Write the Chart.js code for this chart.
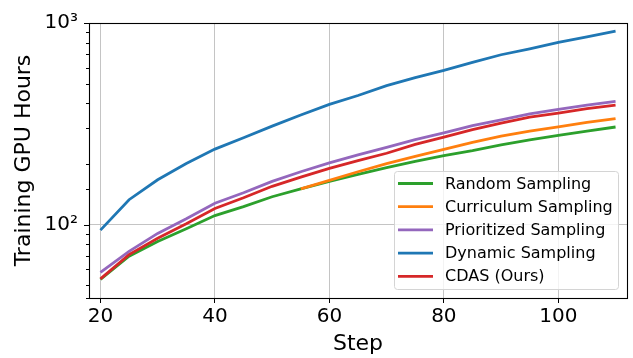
<!DOCTYPE html>
<html>
<head>
<meta charset="utf-8">
<script src="https://cdn.jsdelivr.net/npm/chart.js@4.4.1/dist/chart.umd.min.js"></script>
<style>
  html, body { margin: 0; padding: 0; background: #fff; }
  #wrap { width: 633px; height: 358px; }
</style>
</head>
<body>
<div id="wrap"><canvas id="chart" width="633" height="358"></canvas></div>
<script>
// values (log axis)
const steps = [20, 25, 30, 35, 40, 45, 50, 55, 60, 65, 70, 75, 80, 85, 90, 95, 100, 105, 110];
const randomSampling     = [53.5, 69.8, 82.5, 95.5, 111, 123, 137.6, 150.4, 164, 177.7, 192, 206, 220, 233, 249, 263, 277, 291, 305];
const curriculumSampling = [null, null, null, null, null, null, null, 150.4, 165.7, 183, 201, 218, 236, 256, 275, 291, 305.5, 321.6, 336];
const prioritizedSampling = [58, 73.8, 90.5, 107, 127.8, 144, 164, 183, 202.5, 222, 242, 264, 285, 310, 331, 354, 373, 391.6, 409];
const dynamicSampling    = [94, 133, 167, 201, 237, 270, 308, 350, 395, 437, 489, 536, 582, 638, 696, 744, 801, 853, 912];
const cdasOurs           = [53.9, 71.1, 85.6, 101, 120.4, 136, 155, 172, 190, 208, 226, 250, 272, 296, 319, 341, 357, 376, 392];

const seriesNames = ['Random Sampling', 'Curriculum Sampling', 'Prioritized Sampling', 'Dynamic Sampling', 'CDAS (Ours)'];
const seriesData = [randomSampling, curriculumSampling, prioritizedSampling, dynamicSampling, cdasOurs];
const seriesColors = ['#2ca02c', '#ff7f0e', '#9467bd', '#1f77b4', '#d62728'];

const xTicks = [20, 40, 60, 80, 100];
const yMajor = { 100: '10\u00B2', 1000: '10\u00B3' };

Chart.defaults.font.family = '"DejaVu Sans", sans-serif';
Chart.defaults.color = '#000';

// frame, y tick marks and the legend box (matplotlib style, inside the plot)
const frameAndLegend = {
    id: 'frameAndLegend',
    afterDraw(chart) {
        const ctx = chart.ctx;
        const a = chart.chartArea;
        const ys = chart.scales.y;
        ctx.save();

        // y tick marks: long for decades, short for minor
        ctx.strokeStyle = '#000';
        ctx.lineWidth = 1;
        ys.ticks.forEach(t => {
            const py = Math.round(ys.getPixelForValue(t.value)) + 0.5;
            const len = yMajor[t.value] ? 5 : 3;
            ctx.beginPath();
            ctx.moveTo(a.left - len, py);
            ctx.lineTo(a.left, py);
            ctx.stroke();
        });

        // box around the plot
        ctx.lineWidth = 1.1;
        ctx.strokeRect(Math.round(a.left) + 0.5, Math.round(a.top) + 0.5,
            Math.round(a.right - a.left), Math.round(a.bottom - a.top));

        // legend
        const bx = 394, by = 171, bw = 224, bh = 118;
        ctx.beginPath();
        ctx.roundRect(bx + 0.5, by + 0.5, bw, bh, 3);
        ctx.fillStyle = 'rgba(255,255,255,0.8)';
        ctx.fill();
        ctx.strokeStyle = '#d4d4d4';
        ctx.lineWidth = 1;
        ctx.stroke();

        ctx.font = '16px "DejaVu Sans", sans-serif';
        ctx.textBaseline = 'middle';
        ctx.textAlign = 'left';
        chart.data.datasets.forEach((ds, i) => {
            const ry = 183.5 + i * 23.2;
            ctx.strokeStyle = ds.borderColor;
            ctx.lineWidth = 2.8;
            ctx.beginPath();
            ctx.moveTo(398, ry);
            ctx.lineTo(433, ry);
            ctx.stroke();
            ctx.fillStyle = '#000';
            ctx.fillText(ds.label, 445, ry + 1);
        });
        ctx.restore();
    }
};

const datasets = seriesNames.map((name, i) => ({
    label: name,
    data: steps.map((s, j) => ({ x: s, y: seriesData[i][j] })).filter(p => p.y !== null),
    borderColor: seriesColors[i],
    backgroundColor: seriesColors[i],
    borderWidth: 2.8,
    pointRadius: 0,
    tension: 0,
    fill: false,
    order: seriesNames.length - i   // later series drawn on top, as in the source
}));

new Chart(document.getElementById('chart'), {
    type: 'line',
    data: { datasets: datasets },
    options: {
        responsive: false,
        animation: false,
        layout: { padding: { left: 0, top: 16, right: 6, bottom: 0 } },
        plugins: {
            legend: { display: false },
            tooltip: { enabled: false }
        },
        scales: {
            x: {
                type: 'linear',
                min: 18,
                max: 112,
                afterBuildTicks: s => { s.ticks = xTicks.map(v => ({ value: v })); },
                afterFit: s => { s.height = 60; },
                border: { display: false },
                grid: { color: '#c4c4c4', lineWidth: 1, tickColor: '#000', tickLength: 5 },
                ticks: { font: { size: 20 }, padding: 2, maxRotation: 0, autoSkip: false },
                title: { display: true, text: 'Step', font: { size: 22 }, padding: { top: 0, bottom: 1 } }
            },
            y: {
                type: 'logarithmic',
                min: 43.3,
                max: 1000,
                afterFit: s => { s.width = 89; },
                border: { display: false },
                grid: {
                    color: c => (c.tick && yMajor[c.tick.value]) ? '#c4c4c4' : 'rgba(0,0,0,0)',
                    lineWidth: 1,
                    drawTicks: false
                },
                ticks: {
                    font: { size: 20 },
                    padding: 11,
                    autoSkip: false,
                    callback: v => yMajor[v] || ''
                },
                title: { display: true, text: 'Training GPU Hours', font: { size: 22 }, padding: { top: 11, bottom: 0 } }
            }
        }
    },
    plugins: [frameAndLegend]
});
</script>
</body>
</html>
